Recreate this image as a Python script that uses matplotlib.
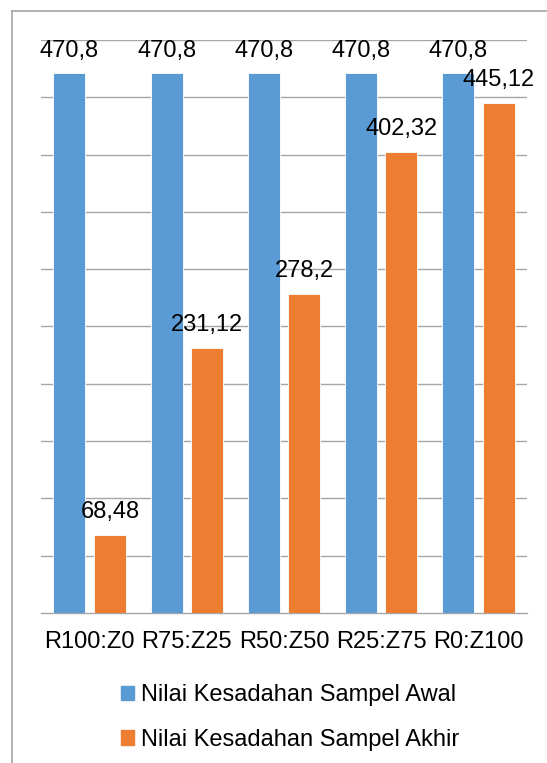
import numpy as np
import matplotlib
matplotlib.use("Agg")
import matplotlib.pyplot as plt
from matplotlib.patches import Patch
from matplotlib.lines import Line2D

plt.rcParams['font.family'] = ['Liberation Sans', 'DejaVu Sans']

categories = ['R100:Z0', 'R75:Z25', 'R50:Z50', 'R25:Z75', 'R0:Z100']
awal = [470.8, 470.8, 470.8, 470.8, 470.8]
akhir = [68.48, 231.12, 278.2, 402.32, 445.12]
series_names = ['Nilai Kesadahan Sampel Awal', 'Nilai Kesadahan Sampel Akhir']

BLUE = '#5B9BD5'
ORANGE = '#ED7D31'
GRID = '#A6A6A6'
FS = 17

fig = plt.figure(figsize=(5.47, 7.63), dpi=100)
ax = fig.add_axes([41 / 547, 150 / 763, 486 / 547, 573 / 763])

x = np.arange(len(categories))
w = 0.33
off = 0.208

b1 = ax.bar(x - off, awal, w, color=BLUE, edgecolor='white', linewidth=0.6, zorder=3)
b2 = ax.bar(x + off, akhir, w, color=ORANGE, edgecolor='white', linewidth=0.6, zorder=3)

for bars, vals in ((b1, awal), (b2, akhir)):
    for r, v in zip(bars, vals):
        ax.annotate(str(v).replace('.', ','), (r.get_x() + r.get_width() / 2, v),
                    xytext=(0, 8.5), textcoords='offset points',
                    ha='center', va='bottom', fontsize=FS, color='black', zorder=5)

ax.set_xlim(-0.5, len(categories) - 0.5)
ax.set_ylim(0, 500)
ax.set_yticks(np.arange(50, 501, 50))
ax.yaxis.grid(True, color=GRID, linewidth=1.0, zorder=0)
ax.tick_params(axis='y', left=False, labelleft=False)
ax.set_xticks(x)
ax.set_xticklabels(categories, fontsize=FS)
ax.tick_params(axis='x', length=0, pad=13)
for s in ['top', 'right', 'left']:
    ax.spines[s].set_visible(False)
ax.spines['bottom'].set_color(GRID)
ax.spines['bottom'].set_linewidth(1.0)

handles = [Patch(color=BLUE), Patch(color=ORANGE)]
fig.legend(handles, series_names, loc='center', bbox_to_anchor=(0.531, 1 - 717.5 / 763),
           frameon=False, fontsize=FS, handlelength=0.55, handleheight=0.55,
           handletextpad=0.3, labelspacing=0.96)

# chart border (cropped on right and bottom)
fig.add_artist(Line2D([12 / 547, 12 / 547], [0, 1 - 11 / 763], color=GRID, linewidth=1.2,
                      transform=fig.transFigure))
fig.add_artist(Line2D([12 / 547, 1], [1 - 11 / 763, 1 - 11 / 763], color=GRID, linewidth=1.2,
                      transform=fig.transFigure))

fig.savefig('out.png', dpi=100)
